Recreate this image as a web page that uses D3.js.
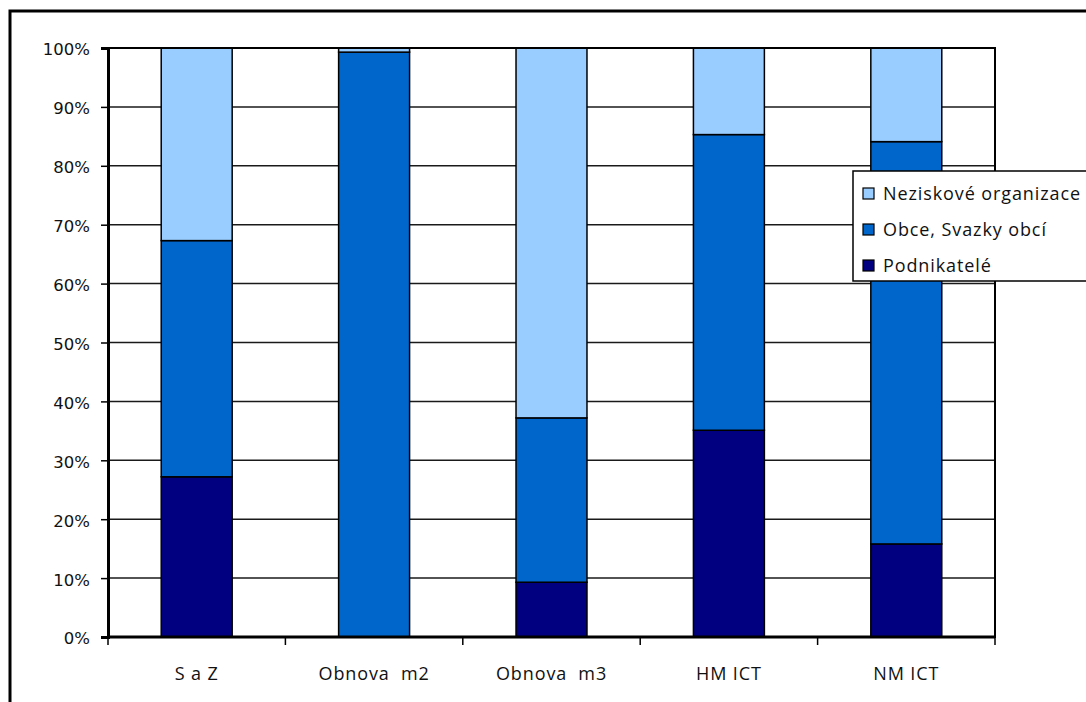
<!DOCTYPE html>
<html>
<head>
<meta charset="utf-8">
<script src="https://cdn.jsdelivr.net/npm/d3@7"></script>
<style>
  body { margin: 0; background: #fff; }
  svg { display: block; }
</style>
</head>
<body>
<div id="chart"></div>
<script>
// data (share of each group, in %)
var categories = ["S a Z", "Obnova  m2", "Obnova  m3", "HM ICT", "NM ICT"];
var podnikatele = [27.2, 0, 9.3, 35.1, 15.8];
var obce = [40.1, 99.3, 27.9, 50.2, 68.3];
var neziskove = [32.7, 0.7, 62.8, 14.7, 15.9];
var seriesNames = ["Podnikatelé", "Obce, Svazky obcí", "Neziskové organizace"];
var seriesColors = ["#000080", "#0066cc", "#99ccff"];
var yTicks = [0, 10, 20, 30, 40, 50, 60, 70, 80, 90, 100];

const width = 1086
const height = 702
var plot = {left: 108, right: 995, top: 48, bottom: 637};

var svg = d3.select("#chart").append("svg")
  .attr("width", width)
  .attr("height", height)

// outer chart frame, runs off the picture at right and bottom
svg.append("rect")
  .attr("x", 10).attr("y", 11)
  .attr("width", 1200).attr("height", 800)
  .style("fill", "white")
  .style("stroke", "black")
  .style("stroke-width", 3)

var x = d3.scaleBand().domain(categories).range([plot.left, plot.right]).paddingInner(0.6).paddingOuter(0.3);
var xEdges = d3.scaleBand().domain(categories).range([plot.left, plot.right]);
var y = d3.scaleLinear().domain([0, 100]).range([plot.bottom, plot.top]);

// gridlines
svg.append("g").selectAll("line").data(yTicks).enter().append("line")
  .attr("x1", plot.left).attr("x2", plot.right)
  .attr("y1", d => y(d)).attr("y2", d => y(d))
  .style("stroke", "#1a1a1a")
  .style("stroke-width", 1.5)

// stacked bars
var rows = categories.map((c, i) => ({cat: c, p: podnikatele[i], o: obce[i], n: neziskove[i]}));
var stack = d3.stack().keys(["p", "o", "n"])(rows);

var layers = svg.append("g").selectAll("g").data(stack).enter().append("g")
  .style("fill", (d, i) => seriesColors[i])

layers.selectAll("rect").data(d => d.filter(s => s[1] - s[0] > 0)).enter().append("rect")
  .attr("x", d => x(d.data.cat))
  .attr("width", x.bandwidth())
  .attr("y", d => y(d[1]))
  .attr("height", d => y(d[0]) - y(d[1]))
  .style("stroke", "black")
  .style("stroke-width", 1.5)

// plot border
svg.append("rect")
  .attr("x", plot.left).attr("y", plot.top)
  .attr("width", plot.right - plot.left).attr("height", plot.bottom - plot.top)
  .style("fill", "none")
  .style("stroke", "black")
  .style("stroke-width", 2)

// y axis
var yAxis = d3.axisLeft(y).tickValues(yTicks).tickSize(7).tickPadding(11).tickFormat(d => d + "%");
var ya = svg.append("g").attr("transform", "translate(" + plot.left + ",0)").call(yAxis);
ya.select(".domain").style("stroke", "black").style("stroke-width", 3);
ya.selectAll(".tick line").style("stroke", "black").style("stroke-width", 1.5);
ya.selectAll("text")
  .style("font-family", "'DejaVu Sans', Verdana, sans-serif")
  .style("font-size", "16.5px")
  .style("fill", "#111")
  .attr("dy", "0.42em")

// x axis: ticks at category edges
var edges = categories.map(c => xEdges(c)).concat([plot.right]);
var xa = svg.append("g");
xa.append("line")
  .attr("x1", plot.left).attr("x2", plot.right)
  .attr("y1", plot.bottom).attr("y2", plot.bottom)
  .style("stroke", "black").style("stroke-width", 3)
xa.selectAll("line.tick").data(edges).enter().append("line")
  .attr("class", "tick")
  .attr("x1", d => d).attr("x2", d => d)
  .attr("y1", plot.bottom).attr("y2", plot.bottom + 8)
  .style("stroke", "black").style("stroke-width", 1.5)
xa.selectAll("text").data(categories).enter().append("text")
  .attr("x", d => xEdges(d) + xEdges.bandwidth() / 2)
  .attr("y", 680)
  .attr("text-anchor", "middle")
  .style("font-family", "'Open Sans', sans-serif")
  .style("font-size", "18px")
  .style("letter-spacing", "0.9px")
  .style("white-space", "pre")
  .style("fill", "#111")
  .text(d => d)

// legend (top entry is the top of the stack)
var legend = svg.append("g");
legend.append("rect")
  .attr("x", 853).attr("y", 171)
  .attr("width", 300).attr("height", 110)
  .style("fill", "white")
  .style("stroke", "black")
  .style("stroke-width", 1.5)
var order = [2, 1, 0];
var items = legend.selectAll("g.item").data(order).enter().append("g")
  .attr("class", "item")
  .attr("transform", (d, i) => "translate(863," + (188 + i * 36) + ")")
items.append("rect")
  .attr("width", 11).attr("height", 11)
  .style("fill", d => seriesColors[d])
  .style("stroke", "black")
  .style("stroke-width", 1.2)
items.append("text")
  .attr("x", 20).attr("y", 12)
  .style("font-family", "'Open Sans', sans-serif")
  .style("font-size", "18px")
  .style("letter-spacing", "0.9px")
  .style("fill", "#111")
  .text(d => seriesNames[d])
</script>
</body>
</html>
